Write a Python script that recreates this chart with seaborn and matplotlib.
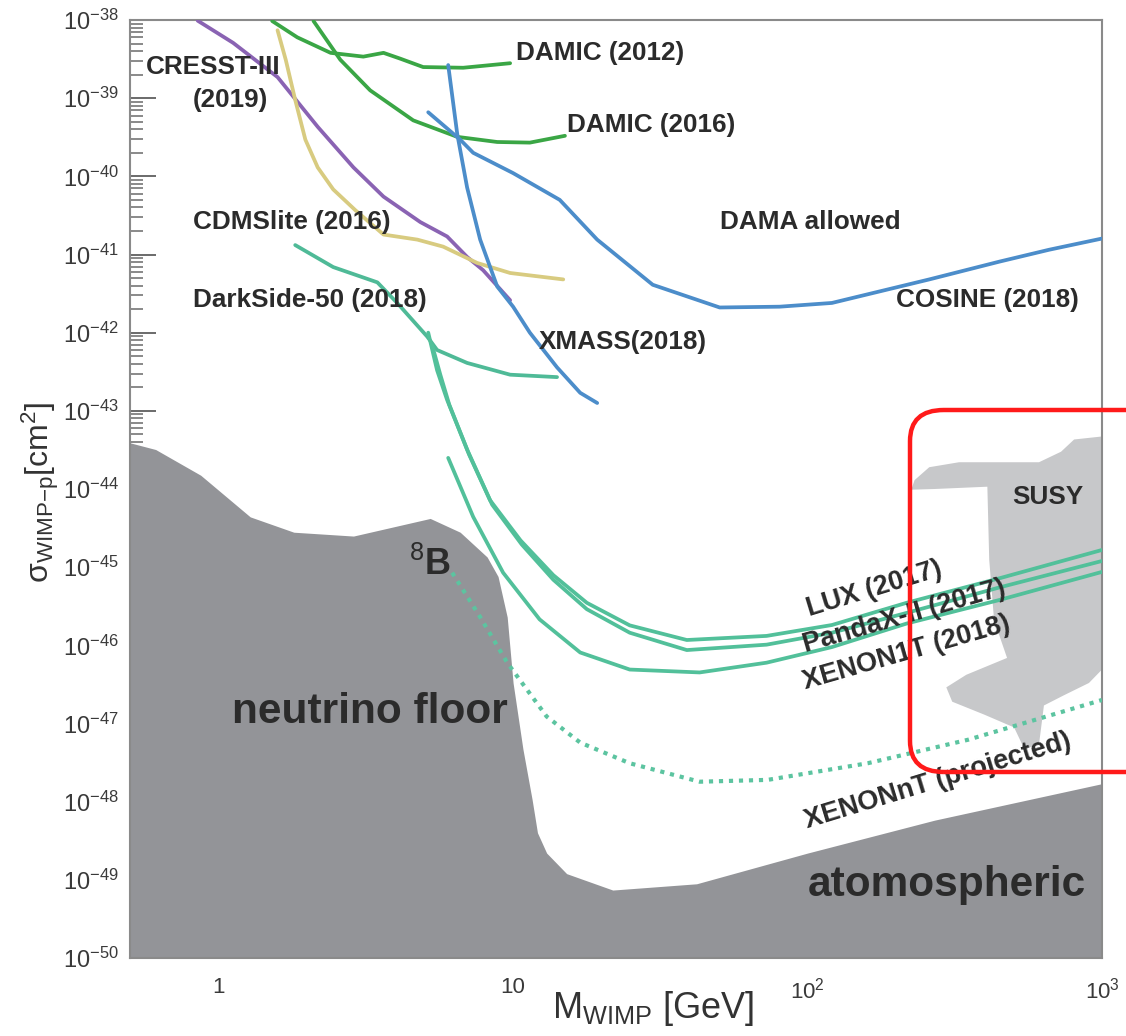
import numpy as np
import matplotlib
matplotlib.use("Agg")
import matplotlib.pyplot as plt
import seaborn as sns
from matplotlib.ticker import LogLocator, FixedLocator, NullFormatter
from matplotlib.patches import FancyBboxPatch

# --- data (M in GeV, sigma in cm^2) ---
floor_mass = [0.5, 0.611, 0.869, 1.28, 1.80, 2.87, 5.23, 6.61, 8.16, 8.89, 9.55, 10.0,
              10.8, 11.6, 12.1, 13.0, 15.2, 21.8, 42.0, 100, 270, 1000]
floor_sigma = [3.9e-44, 3.2e-44, 1.5e-44, 4.4e-45, 2.8e-45, 2.5e-45, 4.2e-45, 2.8e-45,
               1.35e-45, 7.6e-46, 2.3e-46, 3.3e-47, 4.7e-48, 1.07e-48, 4.0e-49, 2.2e-49,
               1.2e-49, 7.4e-50, 8.9e-50, 2.2e-49, 5.8e-49, 1.7e-48]

susy_mass = [1000, 804, 726, 611, 327, 259, 231, 225, 270, 408, 414, 430, 476, 346, 296,
             310, 398, 503, 545, 611, 635, 743, 903, 1000]
susy_sigma = [4.7e-44, 4.3e-44, 3.0e-44, 2.2e-44, 2.2e-44, 1.9e-44, 1.3e-44, 9.8e-45,
              1.0e-44, 1.07e-44, 1.24e-45, 2.1e-46, 6.9e-47, 4.2e-47, 2.9e-47, 1.9e-47,
              1.3e-47, 8.9e-48, 4.7e-48, 5.4e-48, 1.7e-47, 2.3e-47, 3.3e-47, 4.9e-47]

cresst_mass = [0.849, 1.12, 1.585, 2.17, 2.87, 3.63, 4.84, 5.97, 6.98, 7.91, 9.77]
cresst_sigma = [9.8e-39, 5.1e-39, 1.86e-39, 4.3e-40, 1.3e-40, 5.5e-41, 2.6e-41, 1.7e-41,
                9.3e-42, 6.3e-42, 2.6e-42]

cdms_mass = [1.585, 1.69, 1.82, 1.97, 2.17, 2.45, 2.91, 3.63, 4.73, 5.79, 7.55, 9.77, 14.8]
cdms_sigma = [7.4e-39, 3.1e-39, 9.5e-40, 2.95e-40, 1.3e-40, 6.8e-41, 3.7e-41, 1.8e-41,
              1.55e-41, 1.26e-41, 7.8e-42, 5.8e-42, 4.8e-42]

damic12_mass = [1.52, 1.85, 2.40, 3.10, 3.63, 4.14, 4.95, 6.77, 9.77]
damic12_sigma = [9.7e-39, 6.0e-39, 3.8e-39, 3.4e-39, 3.8e-39, 3.2e-39, 2.5e-39, 2.45e-39, 2.8e-39]

damic16_mass = [2.10, 2.59, 3.27, 4.58, 6.46, 8.83, 11.4, 15.0]
damic16_sigma = [9.7e-39, 3.1e-39, 1.26e-39, 5.2e-40, 3.2e-40, 2.75e-40, 2.7e-40, 3.3e-40]

xmass_mass = [6.02, 6.46, 6.98, 7.73, 8.83, 10.0, 11.4, 14.1, 16.9, 19.3]
xmass_sigma = [2.65e-39, 3.5e-40, 7.2e-41, 1.55e-41, 3.9e-42, 2.15e-42, 1.0e-42, 3.6e-43,
               1.7e-43, 1.26e-43]

cosine_mass = [5.15, 6.61, 7.32, 10.0, 14.4, 19.3, 29.8, 50.3, 80.4, 121, 259, 448, 661, 1000]
cosine_sigma = [6.6e-40, 2.95e-40, 2.0e-40, 1.1e-40, 5.0e-41, 1.55e-41, 4.1e-42, 2.1e-42,
                2.15e-42, 2.4e-42, 4.8e-42, 8.1e-42, 1.15e-41, 1.6e-41]

darkside_mass = [1.82, 2.45, 3.46, 4.04, 5.11, 5.52, 6.98, 9.77, 14.1]
darkside_sigma = [1.32e-41, 6.9e-42, 4.4e-42, 2.4e-42, 8.9e-43, 6.0e-43, 4.1e-43, 2.9e-43, 2.7e-43]

lux_mass = [5.15, 5.52, 5.97, 6.98, 8.35, 10.6, 13.7, 17.8, 24.9, 38.9, 72.6, 121, 217, 448, 1000]
lux_sigma = [1.0e-42, 3.3e-43, 1.38e-43, 3.2e-44, 7.2e-45, 2.2e-45, 7.9e-46, 3.5e-46,
             1.8e-46, 1.17e-46, 1.32e-46, 1.82e-46, 3.5e-46, 7.2e-46, 1.66e-45]

pandax_mass = [5.31, 5.66, 6.07, 7.09, 8.49, 10.7, 13.7, 17.8, 24.9, 38.9, 72.6, 121, 217, 448, 1000]
pandax_sigma = [6.9e-43, 2.9e-43, 1.2e-43, 2.75e-44, 6.3e-45, 1.95e-45, 6.9e-46, 2.9e-46,
                1.45e-46, 8.7e-47, 1.02e-46, 1.45e-46, 2.6e-46, 5.5e-46, 1.2e-45]

xenon1t_mass = [6.02, 7.32, 9.25, 12.3, 16.9, 24.9, 43.0, 72.6, 121, 217, 448, 1000]
xenon1t_sigma = [2.5e-44, 4.4e-45, 8.5e-46, 2.15e-46, 8.1e-47, 4.9e-47, 4.5e-47, 6.0e-47,
                 9.5e-47, 1.9e-46, 3.8e-46, 8.7e-46]

xenonnt_mass = [6.21, 7.73, 9.55, 13.0, 16.9, 24.9, 43.0, 73.2, 160, 351, 1000]
xenonnt_sigma = [8.5e-46, 2.3e-46, 6.0e-47, 1.23e-47, 5.7e-48, 3.1e-48, 1.8e-48, 1.9e-48,
                 3.1e-48, 6.2e-48, 2.0e-47]

x_ticks = [1, 10, 100, 1000]
x_tick_labels = ["1", "10", r"$10^2$", r"$10^3$"]
y_ticks = [10.0 ** e for e in range(-50, -37)]

# --- style ---
sns.set_style("white")
plt.rcParams['font.family'] = ['Liberation Sans', 'DejaVu Sans']
plt.rcParams['mathtext.fontset'] = 'custom'
plt.rcParams['mathtext.rm'] = 'Liberation Sans'
plt.rcParams['mathtext.it'] = 'Liberation Sans:italic'
plt.rcParams['mathtext.bf'] = 'Liberation Sans:bold'

fig = plt.figure(figsize=(11.26, 10.36), dpi=100)
ax = fig.add_axes([130 / 1126, 1 - 958 / 1036, 972 / 1126, 938 / 1036])
ax.set_xscale('log')
ax.set_yscale('log')

# neutrino floor and SUSY region
ax.fill_between(floor_mass, floor_sigma, 1e-51, color='#939498', lw=0, zorder=1)
ax.fill(susy_mass, susy_sigma, color='#c7c8ca', lw=0, zorder=1)

lw = 2.7
curves = [
    (cresst_mass, cresst_sigma, '#8a63b3'),
    (cdms_mass, cdms_sigma, '#d8cb80'),
    (damic12_mass, damic12_sigma, '#3aa645'),
    (damic16_mass, damic16_sigma, '#3aa645'),
    (xmass_mass, xmass_sigma, '#4c8dca'),
    (cosine_mass, cosine_sigma, '#4c8dca'),
    (darkside_mass, darkside_sigma, '#4fba97'),
    (lux_mass, lux_sigma, '#52c09a'),
    (pandax_mass, pandax_sigma, '#52c09a'),
    (xenon1t_mass, xenon1t_sigma, '#52c09a'),
]
for m, s, c in curves:
    sns.lineplot(x=m, y=s, ax=ax, color=c, linewidth=lw, sort=False,
                 estimator=None, zorder=3)

sns.lineplot(x=xenonnt_mass, y=xenonnt_sigma, ax=ax, color='#5cc4a0', linewidth=3.0,
             sort=False, estimator=None, linestyle=(0, (1.0, 1.4)), zorder=3)

ax.set_xlim(0.5, 1000)
ax.set_ylim(1e-50, 1e-38)

# ticks
ax.set_xticks(x_ticks)
ax.set_xticklabels(x_tick_labels)
ax.xaxis.set_minor_locator(plt.NullLocator())
ax.tick_params(axis='x', bottom=True, length=0, pad=14, labelsize=16, colors='#3a3a3a')
ax.yaxis.set_major_locator(FixedLocator(y_ticks))
ax.yaxis.set_minor_locator(LogLocator(base=10, subs=np.arange(2, 10), numticks=300))
ax.yaxis.set_minor_formatter(NullFormatter())
ax.tick_params(axis='y', which='both', left=True)
ax.tick_params(axis='y', which='major', direction='in', length=19, width=1.4,
               color='#6a6a6a', labelsize=17, labelcolor='#3a3a3a', pad=8)
ax.tick_params(axis='y', which='minor', direction='in', length=9, width=1.1, color='#6a6a6a')
for sp in ax.spines.values():
    sp.set_color('#8a8a8a')
    sp.set_linewidth(1.5)
ax.set_xlabel("")
ax.set_ylabel("")

# axis titles
fig.text(653 / 1126, 1 - 1008 / 1036, r"M$_{\rm WIMP}$ [GeV]", fontsize=26,
         ha='center', va='center', color='#333333')
fig.text(40 / 1126, 1 - 492 / 1036, r"σ$_{\rm WIMP{-}p}$[cm$^2$]", fontsize=23,
         rotation=90, ha='center', va='center', color='#333333')

# labels
tc = '#2b2b2b'
def lab(x, y, s, size=18.8, rot=0, ha='left'):
    ax.text(x, y, s, fontsize=size, fontweight='bold', color=tc, ha=ha, va='center',
            rotation=rot, rotation_mode='anchor', zorder=5)

lab(0.566, 2.5e-39, "CRESST-III")
lab(0.816, 9.5e-40, "(2019)")
lab(10.2, 3.8e-39, "DAMIC (2012)")
lab(15.2, 4.6e-40, "DAMIC (2016)")
lab(0.816, 2.6e-41, "CDMSlite (2016)")
lab(50.3, 2.6e-41, "DAMA allowed")
lab(0.816, 2.6e-42, "DarkSide-50 (2018)")
lab(200, 2.6e-42, "COSINE (2018)")
lab(12.2, 7.6e-43, "XMASS(2018)")
lab(495, 7.9e-45, "SUSY")
lab(1.11, 1.4e-47, "neutrino floor", size=30.5)
lab(100, 8.5e-50, "atomospheric", size=30.5)
lab(5.2, 1.07e-45, r"$^{8}$B", size=26, ha='center')
lab(100, 2.9e-46, "LUX (2017)", size=19.5, rot=17)
lab(97, 1.0e-46, "PandaX-II (2017)", size=19.5, rot=16)
lab(97, 3.3e-47, "XENON1T (2018)", size=19.5, rot=16)
lab(98, 5.5e-49, "XENONnT (projected)", size=19.5, rot=17)

# red highlight box
box = FancyBboxPatch((910 / 1126, 1 - 772 / 1036), 300 / 1126, 362 / 1036,
                     boxstyle="round,pad=0,rounding_size=0.03",
                     transform=fig.transFigure, fill=False, edgecolor='#ff1a1a',
                     linewidth=3.2, clip_on=False, zorder=10)
fig.patches.append(box)

fig.savefig("out.png", dpi=100)
